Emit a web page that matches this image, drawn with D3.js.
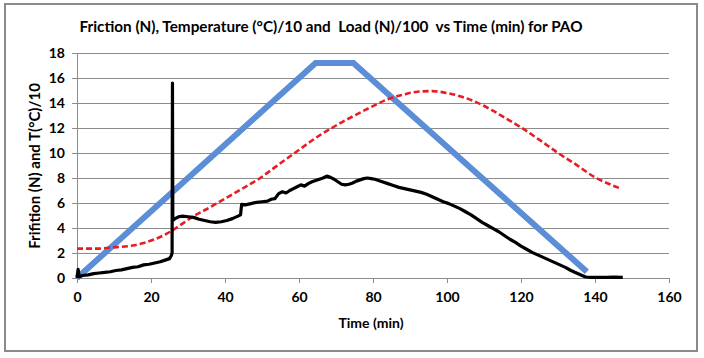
<!DOCTYPE html>
<html><head><meta charset="utf-8">
<script src="https://cdn.jsdelivr.net/npm/d3@7/dist/d3.min.js"></script>
<style>
html,body{margin:0;padding:0;background:#fff;}
text{font-family:Lato,"Open Sans",sans-serif;font-weight:bold;fill:#000;}
</style></head>
<body><svg id="c" width="704" height="358"></svg>
<script>
const titleText = "Friction (N), Temperature (°C)/10 and  Load (N)/100  vs Time (min) for PAO";
const xTitle = "Time (min)";
const yTitle = "Frifition (N) and T(°C)/10";
const xTicks = [0,20,40,60,80,100,120,140,160];
const yTicks = [0,2,4,6,8,10,12,14,16,18];

// Friction (N)
const frictionTime = [0,0.3,0.6,1.5,3,4.5,6,7.5,9,10.5,12,13.5,15,16.5,18,19.5,21,22.5,24,25,25.5,25.7,25.8,25.9,26.5,27.5,28.5,30,31.5,33,34.5,36,37.5,39,40.5,42,43.5,44.2,44.5,45.5,47,48.5,50,51.5,52.5,53.5,54.5,55.5,56.5,57.5,58.5,59.5,60.5,61.5,62.5,63.5,64.5,65.5,66.5,67.5,68.5,69.5,70.5,71.5,72.5,73.5,74.5,75.5,76.5,77.5,78.5,79.5,80.5,81.5,82.5,84,85.5,87,88.5,90,91.5,93,94.5,96,97.5,99,100.5,102,103.5,105,106.5,108,109.5,111,112.5,114,115.5,117,118.5,120,121.5,123,124.5,126,127.5,129,130.5,132,133.5,135,136.5,137.5,139,141,143,145,147.5];
const frictionValue = [0,0.7,0.1,0.2,0.25,0.35,0.4,0.45,0.5,0.6,0.65,0.75,0.85,0.9,1.05,1.1,1.2,1.3,1.45,1.55,1.8,2.0,15.6,4.6,4.75,4.9,4.95,4.9,4.85,4.7,4.6,4.5,4.45,4.5,4.6,4.75,4.95,5.05,5.9,5.85,5.95,6.05,6.1,6.15,6.3,6.35,6.75,6.9,6.8,7.0,7.15,7.3,7.45,7.35,7.55,7.7,7.8,7.9,8.0,8.15,8.05,7.9,7.7,7.5,7.45,7.5,7.6,7.75,7.85,7.95,8.0,7.95,7.9,7.8,7.7,7.55,7.4,7.25,7.15,7.05,6.95,6.85,6.7,6.5,6.3,6.1,5.95,5.75,5.55,5.3,5.05,4.75,4.45,4.2,3.95,3.7,3.4,3.1,2.85,2.55,2.3,2.05,1.85,1.65,1.45,1.25,1.05,0.85,0.6,0.4,0.2,0.08,0.05,0.06,0.05,0.07,0.05];

// Temperature (°C)/10
const tempTime = [0,5,10,15,18,21,24,26,28,31,35,40,45,50,53,56,60,65,70,75,80,84,88,92,96,100,104,108,112,116,120,125,130,135,140,144,147];
const tempValue = [2.35,2.35,2.45,2.6,2.8,3.1,3.5,3.85,4.25,4.85,5.5,6.35,7.2,8.1,8.75,9.4,10.25,11.3,12.2,13.0,13.75,14.3,14.65,14.9,14.95,14.8,14.5,14.05,13.45,12.75,12.05,11.05,10.0,9.05,8.05,7.5,7.15];

// Load (N)/100
const loadTime = [0,64.5,74.7,137.8];
const loadValue = [0,17.2,17.2,0.5];

const svg = d3.select("#c");
svg.append("rect").attr("x",5).attr("y",4).attr("width",692).attr("height",347)
  .attr("fill","#fff").attr("stroke","#8a8a8a").attr("stroke-width",2);

const x = d3.scaleLinear().domain([0,160]).range([77,669]);
const y = d3.scaleLinear().domain([0,18]).range([278,53]);

svg.append("g").selectAll("line").data(yTicks.filter(d=>d>0)).join("line")
  .attr("x1",x(0)).attr("x2",x(160)).attr("y1",d=>y(d)).attr("y2",d=>y(d))
  .attr("stroke","#8c8c8c").attr("stroke-width",1).attr("shape-rendering","crispEdges");

const xa = svg.append("g").attr("transform",`translate(0,${y(0)})`)
  .call(d3.axisBottom(x).tickValues(xTicks).tickSize(5).tickPadding(6).tickFormat(d3.format("d")));
const ya = svg.append("g").attr("transform",`translate(${x(0)},0)`)
  .call(d3.axisLeft(y).tickValues(yTicks).tickSize(5).tickPadding(7).tickFormat(d3.format("d")));
[xa,ya].forEach(a=>{
  a.select(".domain").attr("stroke","#8c8c8c").attr("shape-rendering","crispEdges");
  a.selectAll(".tick line").attr("stroke","#8c8c8c").attr("shape-rendering","crispEdges");
  a.selectAll("text").style("font-size","14px").attr("fill","#000");
});
xa.selectAll("text").attr("dy","0.9em");

const line = d3.line().x(d=>x(d[0])).y(d=>y(d[1]));

svg.append("path").datum(loadTime.map((t,i)=>[t,loadValue[i]]))
  .attr("d",line).attr("fill","none").attr("stroke","#5b8ed6").attr("stroke-width",6)
  .attr("stroke-linejoin","miter");

svg.append("path").datum(tempTime.map((t,i)=>[t,tempValue[i]]))
  .attr("d",d3.line().x(d=>x(d[0])).y(d=>y(d[1])).curve(d3.curveMonotoneX))
  .attr("fill","none").attr("stroke","#e81c24").attr("stroke-width",2.6)
  .attr("stroke-dasharray","6,3");

svg.append("path").datum(frictionTime.map((t,i)=>[t,frictionValue[i]]))
  .attr("d",line).attr("fill","none").attr("stroke","#000").attr("stroke-width",3.2)
  .attr("stroke-linejoin","round");

svg.append("text").attr("x",331).attr("y",32).attr("text-anchor","middle")
  .style("font-size","15px").style("white-space","pre")
  .attr("textLength",503).attr("lengthAdjust","spacingAndGlyphs").text(titleText);
svg.append("text").attr("x",371).attr("y",328).attr("text-anchor","middle")
  .style("font-size","14px").text(xTitle);
svg.append("text").attr("transform","translate(40,166) rotate(-90)").attr("text-anchor","middle")
  .style("font-size","15px").text(yTitle);
</script></body></html>
